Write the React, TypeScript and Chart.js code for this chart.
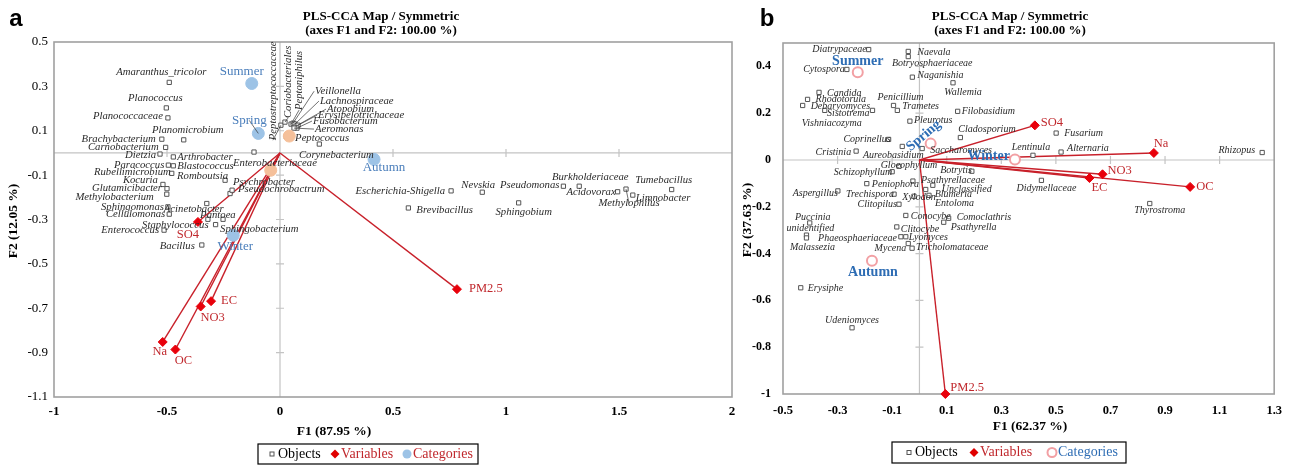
import React, { useEffect, useRef } from 'react';
import { Chart, registerables } from 'chart.js';

Chart.register(...registerables);

const SERIF = '"Liberation Serif", "Times New Roman", serif';
const SANS = '"Liberation Sans", Arial, sans-serif';

type Place = [string, number, number, number?];

// ================= Panel a data =================
const aObjNames = [
  'Amaranthus_tricolor', 'Planococcus', 'Planococcaceae', 'Planomicrobium', 'Brachybacterium',
  'Carnobacterium', 'Dietzia', 'Arthrobacter', 'Paracoccus', 'Blastococcus',
  'Rubellimicrobium', 'Romboutsia', 'Kocuria', 'Glutamicibacter', 'Methylobacterium',
  'Sphingomonas', 'Acinetobacter', 'Cellulomonas', 'Pantoea', 'Sphingobacterium',
  'Staphylococcus', 'Enterococcus', 'Bacillus', 'Psychrobacter', 'Pseudochrobactrum',
  'Enterobacteriaceae', 'Peptostreptococcaceae', 'Coriobacteriales', 'Peptoniphilus', 'Veillonella',
  'Lachnospiraceae', 'Atopobium', 'Erysipelotrichaceae', 'Fusobacterium', 'Aeromonas',
  'Peptococcus', 'Corynebacterium', 'Escherichia-Shigella', 'Nevskia', 'Pseudomonas',
  'Brevibacillus', 'Sphingobium', 'Burkholderiaceae', 'Acidovorax', 'Methylophilus',
  'Limnobacter', 'Tumebacillus',
];
const aObjF1 = [
  -0.490, -0.503, -0.496, -0.426, -0.523,
  -0.506, -0.531, -0.472, -0.494, -0.472,
  -0.479, -0.243, -0.518, -0.500, -0.501,
  -0.496, -0.324, -0.490, -0.319, -0.252,
  -0.285, -0.513, -0.346, -0.221, -0.212,
  -0.115, 0.004, 0.022, 0.049, 0.058,
  0.066, 0.071, 0.080, 0.075, 0.062,
  0.027, 0.174, 0.757, 0.895, 1.254,
  0.568, 1.056, 1.324, 1.494, 1.531,
  1.561, 1.733,
];
const aObjF2 = [
  0.318, 0.203, 0.158, 0.059, 0.062,
  0.025, -0.005, -0.018, -0.055, -0.058,
  -0.092, -0.123, -0.142, -0.161, -0.186,
  -0.243, -0.228, -0.276, -0.299, -0.299,
  -0.323, -0.348, -0.415, -0.183, -0.168,
  0.004, 0.125, 0.139, 0.130, 0.134,
  0.130, 0.121, 0.125, 0.112, 0.112,
  0.075, 0.040, -0.171, -0.177, -0.150,
  -0.248, -0.225, -0.150, -0.175, -0.163,
  -0.190, -0.165,
];
const aVarNames = ['SO4', 'EC', 'NO3', 'Na', 'OC', 'PM2.5'];
const aVarF1 = [-0.363, -0.305, -0.351, -0.519, -0.463, 0.783];
const aVarF2 = [-0.311, -0.668, -0.692, -0.852, -0.886, -0.614];
const aCatNames = ['Summer', 'Spring', 'Winter', 'Autumn'];
const aCatF1 = [-0.125, -0.096, -0.207, 0.416];
const aCatF2 = [0.313, 0.088, -0.371, -0.029];
const aExtraF1 = [0.041, -0.041];
const aExtraF2 = [0.076, -0.078];
const aXTicks = [-1, -0.5, 0, 0.5, 1, 1.5, 2];
const aYTicks = [-1.1, -0.9, -0.7, -0.5, -0.3, -0.1, 0.1, 0.3, 0.5];

// label placements for panel a (align, dx, dy, leader)
const aObjPlace: Place[] = [
  ['c', -8, -10], ['c', -11, -10], ['l', -5, -2], ['c', 4, -10], ['l', -6, 0],
  ['l', -7, 0], ['l', -4, 1], ['r', 4, 0], ['l', -4, 0], ['r', 4, 0],
  ['l', -1, -1], ['l', 3, -4], ['l', -5, -4], ['l', -5, 0], ['l', -13, 3],
  ['l', -4, 0], ['c', -13, 6], ['l', -4, 0], ['c', 10, -4], ['r', -3, 10],
  ['l', -7, 1], ['l', -5, 0], ['l', -7, 1], ['r', 3, -11], ['r', 6, -1],
  ['r', -21, 11], ['v', -8, 15, 1], ['v', 3, -4, 1], ['v', 8, -14, 1], ['r', 22, -32, 1],
  ['r', 25, -23, 1], ['r', 31, -17, 1], ['r', 20, -10, 1], ['r', 16, -7, 1], ['r', 21, 1, 1],
  ['r', 9, 2], ['c', 17, 11], ['l', -6, 0], ['c', -4, -7], ['l', -4, -1],
  ['r', 8, 2], ['c', 5, 9], ['c', 11, -9], ['l', -2, 0], ['c', 3, 14, 1],
  ['r', 3, 3], ['c', -8, -9],
];
const aVarPlace: Place[] = [['c', -10, 13], ['r', 10, 0], ['c', 12, 11], ['c', -3, 10], ['c', 8, 11], ['r', 12, 0]];
const aCatPlace: Place[] = [['c', -10, -12], ['c', -9, -13, 1], ['c', 2, 11], ['c', 10, 8]];

// ================= Panel b data =================
const bObjNames = [
  'Diatrypaceae', 'Cytospora', 'Naevala', 'Botryosphaeriaceae', 'Naganishia',
  'Wallemia', 'Candida', 'Rhodotorula', 'Debaryomyces', 'Sistotrema',
  'Vishniacozyma', 'Penicillium', 'Trametes', 'Filobasidium', 'Pleurotus',
  'Cladosporium', 'Coprinellus', 'Cristinia', 'Aureobasidium', 'Saccharomyces',
  'Lentinula', 'Alternaria', 'Fusarium', 'Rhizopus', 'Didymellaceae',
  'Thyrostroma', 'Botrytis', 'Psathyrellaceae', 'Unclassified', 'Blumeria',
  'Entoloma', 'Gloeophyllum', 'Schizophyllum', 'Peniophora', 'Xylodon',
  'Aspergillus', 'Trechispora', 'Clitopilus', 'Conocybe', 'Comoclathris',
  'Psathyrella', 'Clitocybe', 'Puccinia', 'unidentified', 'Malassezia',
  'Phaeosphaeriaceae', 'Lyomyces', 'Mycena', 'Tricholomataceae', 'Erysiphe',
  'Udeniomyces',
];
const bObjF1 = [
  -0.186, -0.266, -0.041, -0.041, -0.026,
  0.123, -0.368, -0.410, -0.428, -0.172,
  -0.347, -0.095, -0.081, 0.140, -0.035,
  0.150, -0.113, -0.232, -0.063, 0.010,
  0.416, 0.519, 0.501, 1.256, 0.447,
  0.844, 0.192, -0.024, 0.049, 0.023,
  0.035, -0.075, -0.100, -0.193, -0.020,
  -0.299, -0.093, -0.075, -0.050, 0.107,
  0.089, -0.083, -0.402, -0.414, -0.414,
  -0.068, -0.050, -0.041, -0.027, -0.435,
  -0.247,
];
const bObjF2 = [
  0.472, 0.387, 0.464, 0.442, 0.354,
  0.330, 0.289, 0.259, 0.233, 0.212,
  0.212, 0.233, 0.212, 0.208, 0.166,
  0.096, 0.088, 0.038, 0.058, 0.049,
  0.020, 0.034, 0.115, 0.032, -0.087,
  -0.186, -0.048, -0.090, -0.108, -0.126,
  -0.151, -0.027, -0.050, -0.101, -0.155,
  -0.132, -0.146, -0.189, -0.237, -0.249,
  -0.266, -0.286, -0.269, -0.321, -0.333,
  -0.328, -0.328, -0.357, -0.377, -0.546,
  -0.717,
];
const bVarNames = ['SO4', 'Na', 'NO3', 'EC', 'OC', 'PM2.5'];
const bVarF1 = [0.423, 0.859, 0.671, 0.623, 0.992, 0.095];
const bVarF2 = [0.148, 0.030, -0.061, -0.077, -0.115, -1.0];
const bCatNames = ['Summer', 'Spring', 'Winter', 'Autumn'];
const bCatF1 = [-0.226, 0.041, 0.350, -0.174];
const bCatF2 = [0.375, 0.070, 0.002, -0.431];
const bXTicks = [-0.5, -0.3, -0.1, 0.1, 0.3, 0.5, 0.7, 0.9, 1.1, 1.3];
const bYTicks = [-1, -0.8, -0.6, -0.4, -0.2, 0, 0.2, 0.4];

const bObjPlace: Place[] = [
  ['l', -2, 0], ['l', -2, 0], ['r', 9, 1], ['c', 24, 7], ['r', 5, -2],
  ['c', 10, 10], ['r', 8, 1], ['r', 8, 0], ['r', 8, 1], ['l', -3, 3],
  ['c', 7, 13], ['c', 7, -8], ['r', 5, -4], ['r', 4, 0], ['r', 4, -1],
  ['r', -2, -8], ['l', 2, 0], ['l', -5, 1], ['c', -9, 9], ['r', 8, 2],
  ['c', -2, -8], ['r', 6, -4], ['r', 8, 0], ['l', -7, -2], ['c', 5, 8],
  ['c', 10, 7], ['l', 0, -1], ['r', 8, -1], ['r', 9, 4], ['r', 9, 5],
  ['r', 6, 8], ['c', 10, -1], ['l', 0, 1], ['r', 5, 1], ['c', 5, 1],
  ['l', 0, 2], ['l', 0, 0], ['l', -2, 0], ['r', 5, 1], ['r', 8, -1],
  ['r', 7, 5], ['r', 4, 2], ['c', 3, -6], ['c', 4, -7], ['c', 6, 9],
  ['l', -4, 2], ['r', 3, 1], ['l', -2, 5], ['r', 4, -1], ['r', 7, 1],
  ['c', 0, -7],
];
const bVarPlace: Place[] = [['r', 6, -3], ['r', 0, -9], ['r', 5, -4], ['c', 10, 10], ['r', 6, 0], ['r', 5, -6]];
const bCatPlace: Place[] = [['c', 0, -11], ['rot', -7, -8], ['l', -5, -3], ['c', 1, 12]];

// ================= shared helpers =================
const pts = (xs: number[], ys: number[]) => xs.map((x, i) => ({ x, y: ys[i] }));

function drawLabel(ctx: CanvasRenderingContext2D, text: string, px: number, py: number, place: Place, font: string, color: string) {
  const [a, dx, dy, leader] = place;
  const x = px + dx;
  const y = py + dy;
  ctx.save();
  if (leader) {
    ctx.strokeStyle = '#333';
    ctx.lineWidth = 0.7;
    ctx.beginPath();
    ctx.moveTo(px, py);
    ctx.lineTo(a === 'r' ? x - 1 : x, y);
    ctx.stroke();
  }
  ctx.font = font;
  ctx.fillStyle = color;
  ctx.textBaseline = 'middle';
  if (a === 'v') {
    ctx.translate(x, y);
    ctx.rotate(-Math.PI / 2);
    ctx.textAlign = 'left';
    ctx.fillText(text, 0, 0);
  } else if (a === 'rot') {
    ctx.translate(x, y);
    ctx.rotate((-40 * Math.PI) / 180);
    ctx.textAlign = 'center';
    ctx.fillText(text, 0, 0);
  } else {
    ctx.textAlign = a === 'l' ? 'right' : a === 'r' ? 'left' : 'center';
    ctx.fillText(text, x, y);
  }
  ctx.restore();
}

interface Spec {
  width: number;
  padTop: number;
  padRight: number;
  yAxisW: number;
  xAxisH: number;
  xMin: number; xMax: number; yMin: number; yMax: number;
  xTicks: number[]; yTicks: number[];
  xTickFont: any; yTickFont: any; xTickPad: number; yTickPad: number;
  obj: { names: string[]; f1: number[]; f2: number[]; place: Place[] };
  vars: { names: string[]; f1: number[]; f2: number[]; place: Place[] };
  cats: { names: string[]; f1: number[]; f2: number[]; place: Place[] };
  extra?: { f1: number[]; f2: number[] };
  objFont: string; varFont: string; catFont: string;
  catColor: string; varColor: string; varPoint: string; lineColor: string;
  catFill: string; catBorder: string; catBorderW: number; catR: number;
  letter: string; letterX: number;
  titleX: number;
  yTitle: string; yTitleX: number; yTitleY: number;
  xTitle: string; xTitleX: number; xTitleY: number;
  legend: { x: number; y: number; w: number; h: number; items: number[]; catText: string; catHollow: boolean };
}

function decorPlugin(s: Spec) {
  return {
    id: 'decor',
    beforeDatasetsDraw(chart: any) {
      const { ctx, chartArea: ca } = chart;
      const xs = chart.scales.x;
      const ys = chart.scales.y;
      const x0 = xs.getPixelForValue(0);
      const y0 = ys.getPixelForValue(0);
      ctx.save();
      ctx.strokeStyle = '#c4c4c4';
      ctx.lineWidth = 1.2;
      ctx.beginPath();
      ctx.moveTo(ca.left, y0); ctx.lineTo(ca.right, y0);
      ctx.moveTo(x0, ca.top); ctx.lineTo(x0, ca.bottom);
      s.xTicks.forEach((v) => {
        if (v === 0 || v === s.xMin || v === s.xMax) return;
        const p = xs.getPixelForValue(v);
        ctx.moveTo(p, y0 - 4); ctx.lineTo(p, y0 + 4);
      });
      s.yTicks.forEach((v) => {
        if (v === 0 || v === s.yMin || v === s.yMax) return;
        const p = ys.getPixelForValue(v);
        ctx.moveTo(x0 - 4, p); ctx.lineTo(x0 + 4, p);
      });
      ctx.stroke();
      ctx.strokeStyle = '#a0a0a0';
      ctx.lineWidth = 1.6;
      ctx.strokeRect(ca.left, ca.top, ca.right - ca.left, ca.bottom - ca.top);
      ctx.restore();
    },
    afterDatasetsDraw(chart: any) {
      const { ctx } = chart;
      const xs = chart.scales.x;
      const ys = chart.scales.y;
      s.obj.names.forEach((n, i) =>
        drawLabel(ctx, n, xs.getPixelForValue(s.obj.f1[i]), ys.getPixelForValue(s.obj.f2[i]), s.obj.place[i], s.objFont, '#2a2a2a'));
      s.vars.names.forEach((n, i) =>
        drawLabel(ctx, n, xs.getPixelForValue(s.vars.f1[i]), ys.getPixelForValue(s.vars.f2[i]), s.vars.place[i], s.varFont, s.varColor));
      s.cats.names.forEach((n, i) =>
        drawLabel(ctx, n, xs.getPixelForValue(s.cats.f1[i]), ys.getPixelForValue(s.cats.f2[i]), s.cats.place[i], s.catFont, s.catColor));
    },
    afterDraw(chart: any) {
      const { ctx } = chart;
      ctx.save();
      ctx.fillStyle = '#000';
      ctx.textBaseline = 'middle';
      // panel letter
      ctx.font = `bold 24px ${SANS}`;
      ctx.textAlign = 'center';
      ctx.fillText(s.letter, s.letterX, 19);
      // title
      ctx.font = `bold 13px ${SERIF}`;
      ctx.fillText('PLS-CCA Map / Symmetric', s.titleX, 17);
      ctx.fillText('(axes F1 and F2: 100.00 %)', s.titleX, 31);
      // axis titles
      ctx.font = `bold 13.5px ${SERIF}`;
      ctx.fillText(s.xTitle, s.xTitleX, s.xTitleY);
      ctx.save();
      ctx.translate(s.yTitleX, s.yTitleY);
      ctx.rotate(-Math.PI / 2);
      ctx.fillText(s.yTitle, 0, 0);
      ctx.restore();
      // legend
      const L = s.legend;
      ctx.strokeStyle = '#000';
      ctx.lineWidth = 1.2;
      ctx.strokeRect(L.x, L.y, L.w, L.h);
      const cy = L.y + L.h / 2;
      ctx.font = `14px ${SERIF}`;
      ctx.textAlign = 'left';
      // objects
      ctx.strokeStyle = '#555';
      ctx.lineWidth = 1;
      ctx.strokeRect(L.items[0] - 2, cy - 2, 4, 4);
      ctx.fillStyle = '#000';
      ctx.fillText('Objects', L.items[1], cy);
      // variables
      ctx.fillStyle = '#e00000';
      ctx.beginPath();
      ctx.moveTo(L.items[2], cy - 4.5); ctx.lineTo(L.items[2] + 4.5, cy);
      ctx.lineTo(L.items[2], cy + 4.5); ctx.lineTo(L.items[2] - 4.5, cy);
      ctx.closePath(); ctx.fill();
      ctx.fillStyle = '#c0282d';
      ctx.fillText('Variables', L.items[3], cy);
      // categories
      ctx.beginPath();
      ctx.arc(L.items[4], cy, 4.5, 0, Math.PI * 2);
      if (L.catHollow) {
        ctx.strokeStyle = s.catBorder; ctx.lineWidth = 2; ctx.stroke();
      } else {
        ctx.fillStyle = s.catFill; ctx.fill();
      }
      ctx.fillStyle = L.catText;
      ctx.fillText('Categories', L.items[5], cy);
      ctx.restore();
    },
  };
}

function buildConfig(s: Spec): any {
  const datasets: any[] = [
    {
      label: 'Variables', data: pts(s.vars.f1, s.vars.f2), pointStyle: 'rectRot', pointRadius: 4.5,
      backgroundColor: s.varPoint, borderColor: s.varPoint, borderWidth: 1, order: 0, clip: false,
    },
    {
      label: 'Categories', data: pts(s.cats.f1, s.cats.f2), pointStyle: 'circle', pointRadius: s.catR,
      backgroundColor: s.catFill, borderColor: s.catBorder, borderWidth: s.catBorderW, order: 1, clip: false,
    },
    {
      label: 'Objects', data: pts(s.obj.f1, s.obj.f2), pointStyle: 'rect', pointRadius: 3,
      backgroundColor: '#ffffff', borderColor: '#555555', borderWidth: 1, order: 3, clip: false,
    },
    ...s.vars.f1.map((x, i) => ({
      label: 'line', data: [{ x: 0, y: 0 }, { x, y: s.vars.f2[i] }], showLine: true, pointRadius: 0,
      borderColor: s.lineColor, borderWidth: 1.4, order: 5, clip: false,
    })),
  ];
  if (s.extra) {
    datasets.push({
      label: 'extra', data: pts(s.extra.f1, s.extra.f2), pointStyle: 'circle', pointRadius: 6,
      backgroundColor: '#f5c09a', borderColor: '#f5c09a', order: 2,
    });
  }
  return {
    type: 'scatter',
    data: { datasets },
    options: {
      responsive: false,
      animation: false,
      events: [],
      layout: { padding: { top: s.padTop, right: s.padRight, left: 0, bottom: 0 } },
      plugins: { legend: { display: false }, tooltip: { enabled: false } },
      scales: {
        x: {
          type: 'linear', min: s.xMin, max: s.xMax,
          grid: { display: false, drawTicks: false }, border: { display: false },
          afterBuildTicks: (sc: any) => { sc.ticks = s.xTicks.map((v) => ({ value: v })); },
          afterFit: (sc: any) => { sc.height = s.xAxisH; },
          ticks: { font: s.xTickFont, color: '#000', padding: s.xTickPad, autoSkip: false, maxRotation: 0, callback: (v: number) => String(v) },
        },
        y: {
          type: 'linear', min: s.yMin, max: s.yMax,
          grid: { display: false, drawTicks: false }, border: { display: false },
          afterBuildTicks: (sc: any) => { sc.ticks = s.yTicks.map((v) => ({ value: v })); },
          afterFit: (sc: any) => { sc.width = s.yAxisW; },
          ticks: { font: s.yTickFont, color: '#000', padding: s.yTickPad, autoSkip: false, callback: (v: number) => String(v) },
        },
      },
    },
    plugins: [decorPlugin(s)],
  };
}

const specA: Spec = {
  width: 745, padTop: 42, padRight: 13, yAxisW: 54, xAxisH: 68,
  xMin: -1, xMax: 2, yMin: -1.1, yMax: 0.5, xTicks: aXTicks, yTicks: aYTicks,
  xTickFont: { family: SERIF, size: 13, weight: 'bold' }, yTickFont: { family: SERIF, size: 13 },
  xTickPad: 7, yTickPad: 6,
  obj: { names: aObjNames, f1: aObjF1, f2: aObjF2, place: aObjPlace },
  vars: { names: aVarNames, f1: aVarF1, f2: aVarF2, place: aVarPlace },
  cats: { names: aCatNames, f1: aCatF1, f2: aCatF2, place: aCatPlace },
  extra: { f1: aExtraF1, f2: aExtraF2 },
  objFont: `italic 10.7px ${SERIF}`, varFont: `12.5px ${SERIF}`, catFont: `13px ${SERIF}`,
  catColor: '#4a7ebb', varColor: '#c0282d', varPoint: '#e8000b', lineColor: '#c8202a',
  catFill: '#9dc3e6', catBorder: '#9dc3e6', catBorderW: 1, catR: 6,
  letter: 'a', letterX: 16, titleX: 381,
  yTitle: 'F2 (12.05 %)', yTitleX: 14, yTitleY: 221,
  xTitle: 'F1 (87.95 %)', xTitleX: 334, xTitleY: 432,
  legend: { x: 258, y: 444, w: 220, h: 20, items: [272, 278, 335, 341, 407, 413], catText: '#c0282d', catHollow: false },
};

// panel b canvas starts at page x = 735
const specB: Spec = {
  width: 556, padTop: 43, padRight: 13, yAxisW: 48, xAxisH: 71,
  xMin: -0.5, xMax: 1.3, yMin: -1, yMax: 0.5, xTicks: bXTicks, yTicks: bYTicks,
  xTickFont: { family: SERIF, size: 12.5, weight: 'bold' }, yTickFont: { family: SERIF, size: 12, weight: 'bold' },
  xTickPad: 9, yTickPad: 12,
  obj: { names: bObjNames, f1: bObjF1, f2: bObjF2, place: bObjPlace },
  vars: { names: bVarNames, f1: bVarF1, f2: bVarF2, place: bVarPlace },
  cats: { names: bCatNames, f1: bCatF1, f2: bCatF2, place: bCatPlace },
  objFont: `italic 10px ${SERIF}`, varFont: `12.5px ${SERIF}`, catFont: `bold 14px ${SERIF}`,
  catColor: '#2e6db4', varColor: '#c0282d', varPoint: '#e8000b', lineColor: '#c8202a',
  catFill: '#ffffff', catBorder: '#f2a0a4', catBorderW: 2, catR: 5,
  letter: 'b', letterX: 32, titleX: 275,
  yTitle: 'F2 (37.63 %)', yTitleX: 13, yTitleY: 220,
  xTitle: 'F1 (62.37 %)', xTitleX: 295, xTitleY: 427,
  legend: { x: 157, y: 442, w: 234, h: 21, items: [174, 180, 239, 245, 317, 323], catText: '#2e6db4', catHollow: true },
};

function Panel({ spec, left }: { spec: Spec; left: number }) {
  const ref = useRef<HTMLCanvasElement>(null);
  useEffect(() => {
    const chart = new Chart(ref.current as HTMLCanvasElement, buildConfig(spec));
    return () => chart.destroy();
  }, [spec]);
  return (
    <canvas
      ref={ref}
      width={spec.width}
      height={465}
      style={{ position: 'absolute', left, top: 0, width: spec.width, height: 465 }}
    />
  );
}

export default function App() {
  return (
    <div style={{ position: 'absolute', left: 0, top: 0, width: 1291, height: 465, background: '#fff', overflow: 'hidden' }}>
      <Panel spec={specA} left={0} />
      <Panel spec={specB} left={735} />
    </div>
  );
}
